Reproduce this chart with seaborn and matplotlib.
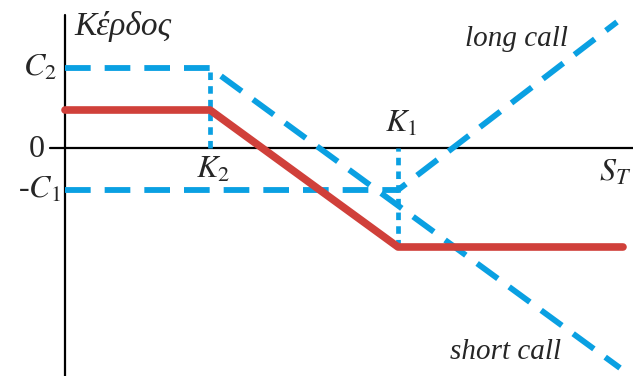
import pandas as pd
import seaborn as sns
import matplotlib.pyplot as plt

# bear call spread payoff, arbitrary units
K2, K1 = 14.5, 33.3
C2, C1 = 8.0, 4.2

s_long = [0, K1, 55.2]
long_call = [-C1, -C1, 12.6]

s_short = [0, K2, 55.5]
short_call = [C2, C2, -22.0]

s_spread = [0, K2, K1, 55.8]
spread = [3.8, 3.8, -9.9, -9.9]

blue = '#0AA0E2'
red = '#D0403A'

sns.set_style('white')
plt.rcParams['mathtext.fontset'] = 'stix'
plt.rcParams['font.family'] = ['Liberation Serif', 'DejaVu Serif']

fig = plt.figure(figsize=(6.33, 3.76), dpi=100)
ax = fig.add_axes([0, 0, 1, 1])
ax.set_xlim(-6.5, 56.8)
ax.set_ylim(-22.8, 14.8)
ax.axis('off')

# axes lines
ax.axhline(0, xmin=50 / 633, xmax=1, color='black', lw=1.6, zorder=1)
ax.axvline(0, ymin=0, ymax=(376 - 15) / 376, color='black', lw=1.6, zorder=1)

# option legs
sns.lineplot(x=s_short, y=short_call, ax=ax, color=blue, lw=4.2,
             linestyle=(0, (4.4, 2.4)), zorder=2)
sns.lineplot(x=s_long, y=long_call, ax=ax, color=blue, lw=4.2,
             linestyle=(0, (4.4, 2.4)), zorder=2)

# strike markers
ax.vlines(K2, 0, C2, color=blue, lw=3.4, linestyles=(0, (1.6, 1.3)), zorder=2)
ax.vlines(K1, spread[-1], 0, color=blue, lw=3.4, linestyles=(0, (1.6, 1.3)), zorder=2)

# combined position
sns.lineplot(x=s_spread, y=spread, ax=ax, color=red, lw=5.5,
             solid_capstyle='round', solid_joinstyle='round', zorder=3)

fs = 23
ax.text(0.9, 12.2, 'Κέρδος', fontsize=24, style='italic', ha='left', va='center')
ax.text(-0.8, C2, '$C_2$', fontsize=fs, ha='right', va='center')
ax.text(-2.0, -0.2, '0', fontsize=fs, ha='right', va='center')
ax.text(-0.4, -C1, '-$C_1$', fontsize=fs, ha='right', va='center')
ax.text(K2 + 0.3, -2.2, '$K_2$', fontsize=fs, ha='center', va='center')
ax.text(K1 + 0.3, 2.4, '$K_1$', fontsize=fs, ha='center', va='center')
ax.text(55.0, -2.5, '$S_T$', fontsize=fs, ha='center', va='center')
ax.text(45.1, 10.9, 'long call', fontsize=21, style='italic', ha='center', va='center')
ax.text(44.1, -20.4, 'short call', fontsize=21, style='italic', ha='center', va='center')

fig.savefig('out.png', dpi=100)
